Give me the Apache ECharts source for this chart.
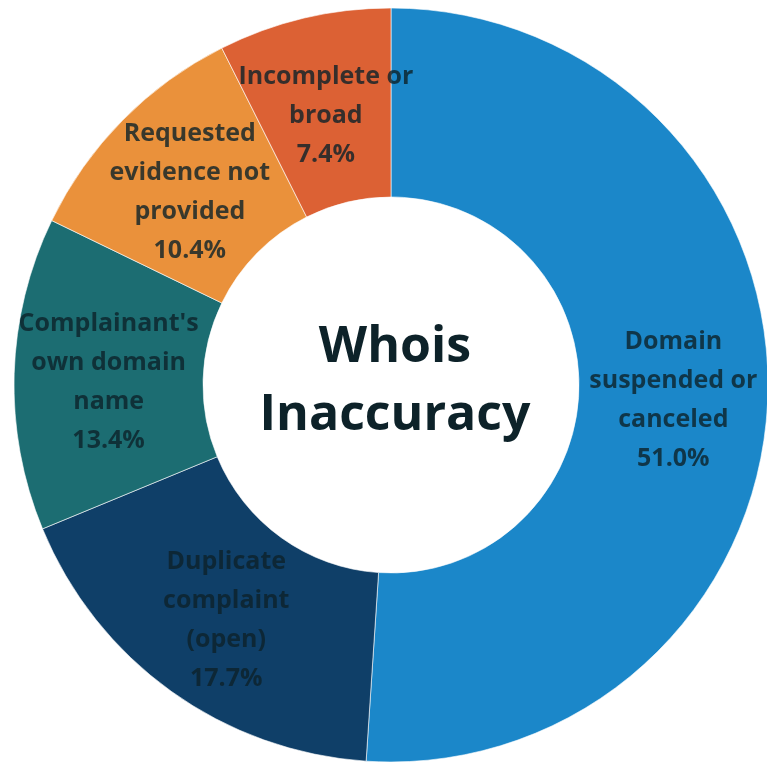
<!DOCTYPE html>
<html>
<head>
<meta charset="utf-8">
<script src="https://cdn.jsdelivr.net/npm/echarts@6/dist/echarts.min.js"></script>
<style>
  html, body { margin: 0; padding: 0; background: #fff; }
  #main { width: 767px; height: 766px; }
</style>
</head>
<body>
<div id="main"></div>
<script>
// slices, clockwise from 12 o'clock
const categories = [
  'Domain\nsuspended or\ncanceled',
  'Duplicate\ncomplaint\n(open)',
  "Complainant's\nown domain\nname",
  'Requested\nevidence not\nprovided',
  'Incomplete or\nbroad'
]
const values = [51.0, 17.7, 13.4, 10.4, 7.4]
const colors = ['#1B87C9', '#0F3F68', '#1C6D72', '#EA913B', '#DC6134']
const centerTitle = 'Whois\nInaccuracy'

const CX = 391, CY = 385, R0 = 188, R1 = 377
const total = values.reduce((a, b) => a + b, 0)

// pie hides inside labels that overflow their sector, so labels sit on a
// polar scatter laid over the pie (same centre, same angle scale)
let acc = 0
const labelPoints = values.map(function (v, i) {
  const mid = acc + v / 2
  acc += v
  return { name: categories[i], value: [(R0 + R1) / 2, mid] }
})

const chart = echarts.init(document.getElementById('main'))

chart.setOption({
  animation: false,
  polar: { center: [CX, CY], radius: R1 },
  angleAxis: { type: 'value', min: 0, max: total, startAngle: 90, clockwise: true, show: false },
  radiusAxis: { type: 'value', min: 0, max: R1, show: false },
  graphic: [
    {
      type: 'text',
      x: 395,
      y: 382,
      style: {
        text: centerTitle,
        align: 'center',
        verticalAlign: 'middle',
        fontFamily: 'Open Sans',
        fontWeight: 'bold',
        fontSize: 50,
        lineHeight: 68,
        fill: '#0D2229'
      }
    }
  ],
  series: [
    {
      type: 'pie',
      center: [CX, CY],
      radius: [R0, R1],
      startAngle: 90,
      clockwise: true,
      silent: true,
      itemStyle: {
        borderColor: '#fff',
        borderWidth: 0.6
      },
      label: { show: false },
      labelLine: { show: false },
      data: categories.map(function (name, i) {
        return { name: name, value: values[i], itemStyle: { color: colors[i] } }
      })
    },
    {
      type: 'scatter',
      coordinateSystem: 'polar',
      symbolSize: 1,
      silent: true,
      itemStyle: { color: 'rgba(0,0,0,0)' },
      label: {
        show: true,
        position: 'inside',
        offset: [0, 6],
        fontFamily: 'Open Sans',
        fontWeight: 'bold',
        fontSize: 25,
        lineHeight: 39,
        color: '#0D2229',
        align: 'center',
        formatter: function (p) {
          return p.name + '\n' + values[p.dataIndex].toFixed(1) + '%'
        }
      },
      data: labelPoints
    }
  ]
})
</script>
</body>
</html>
